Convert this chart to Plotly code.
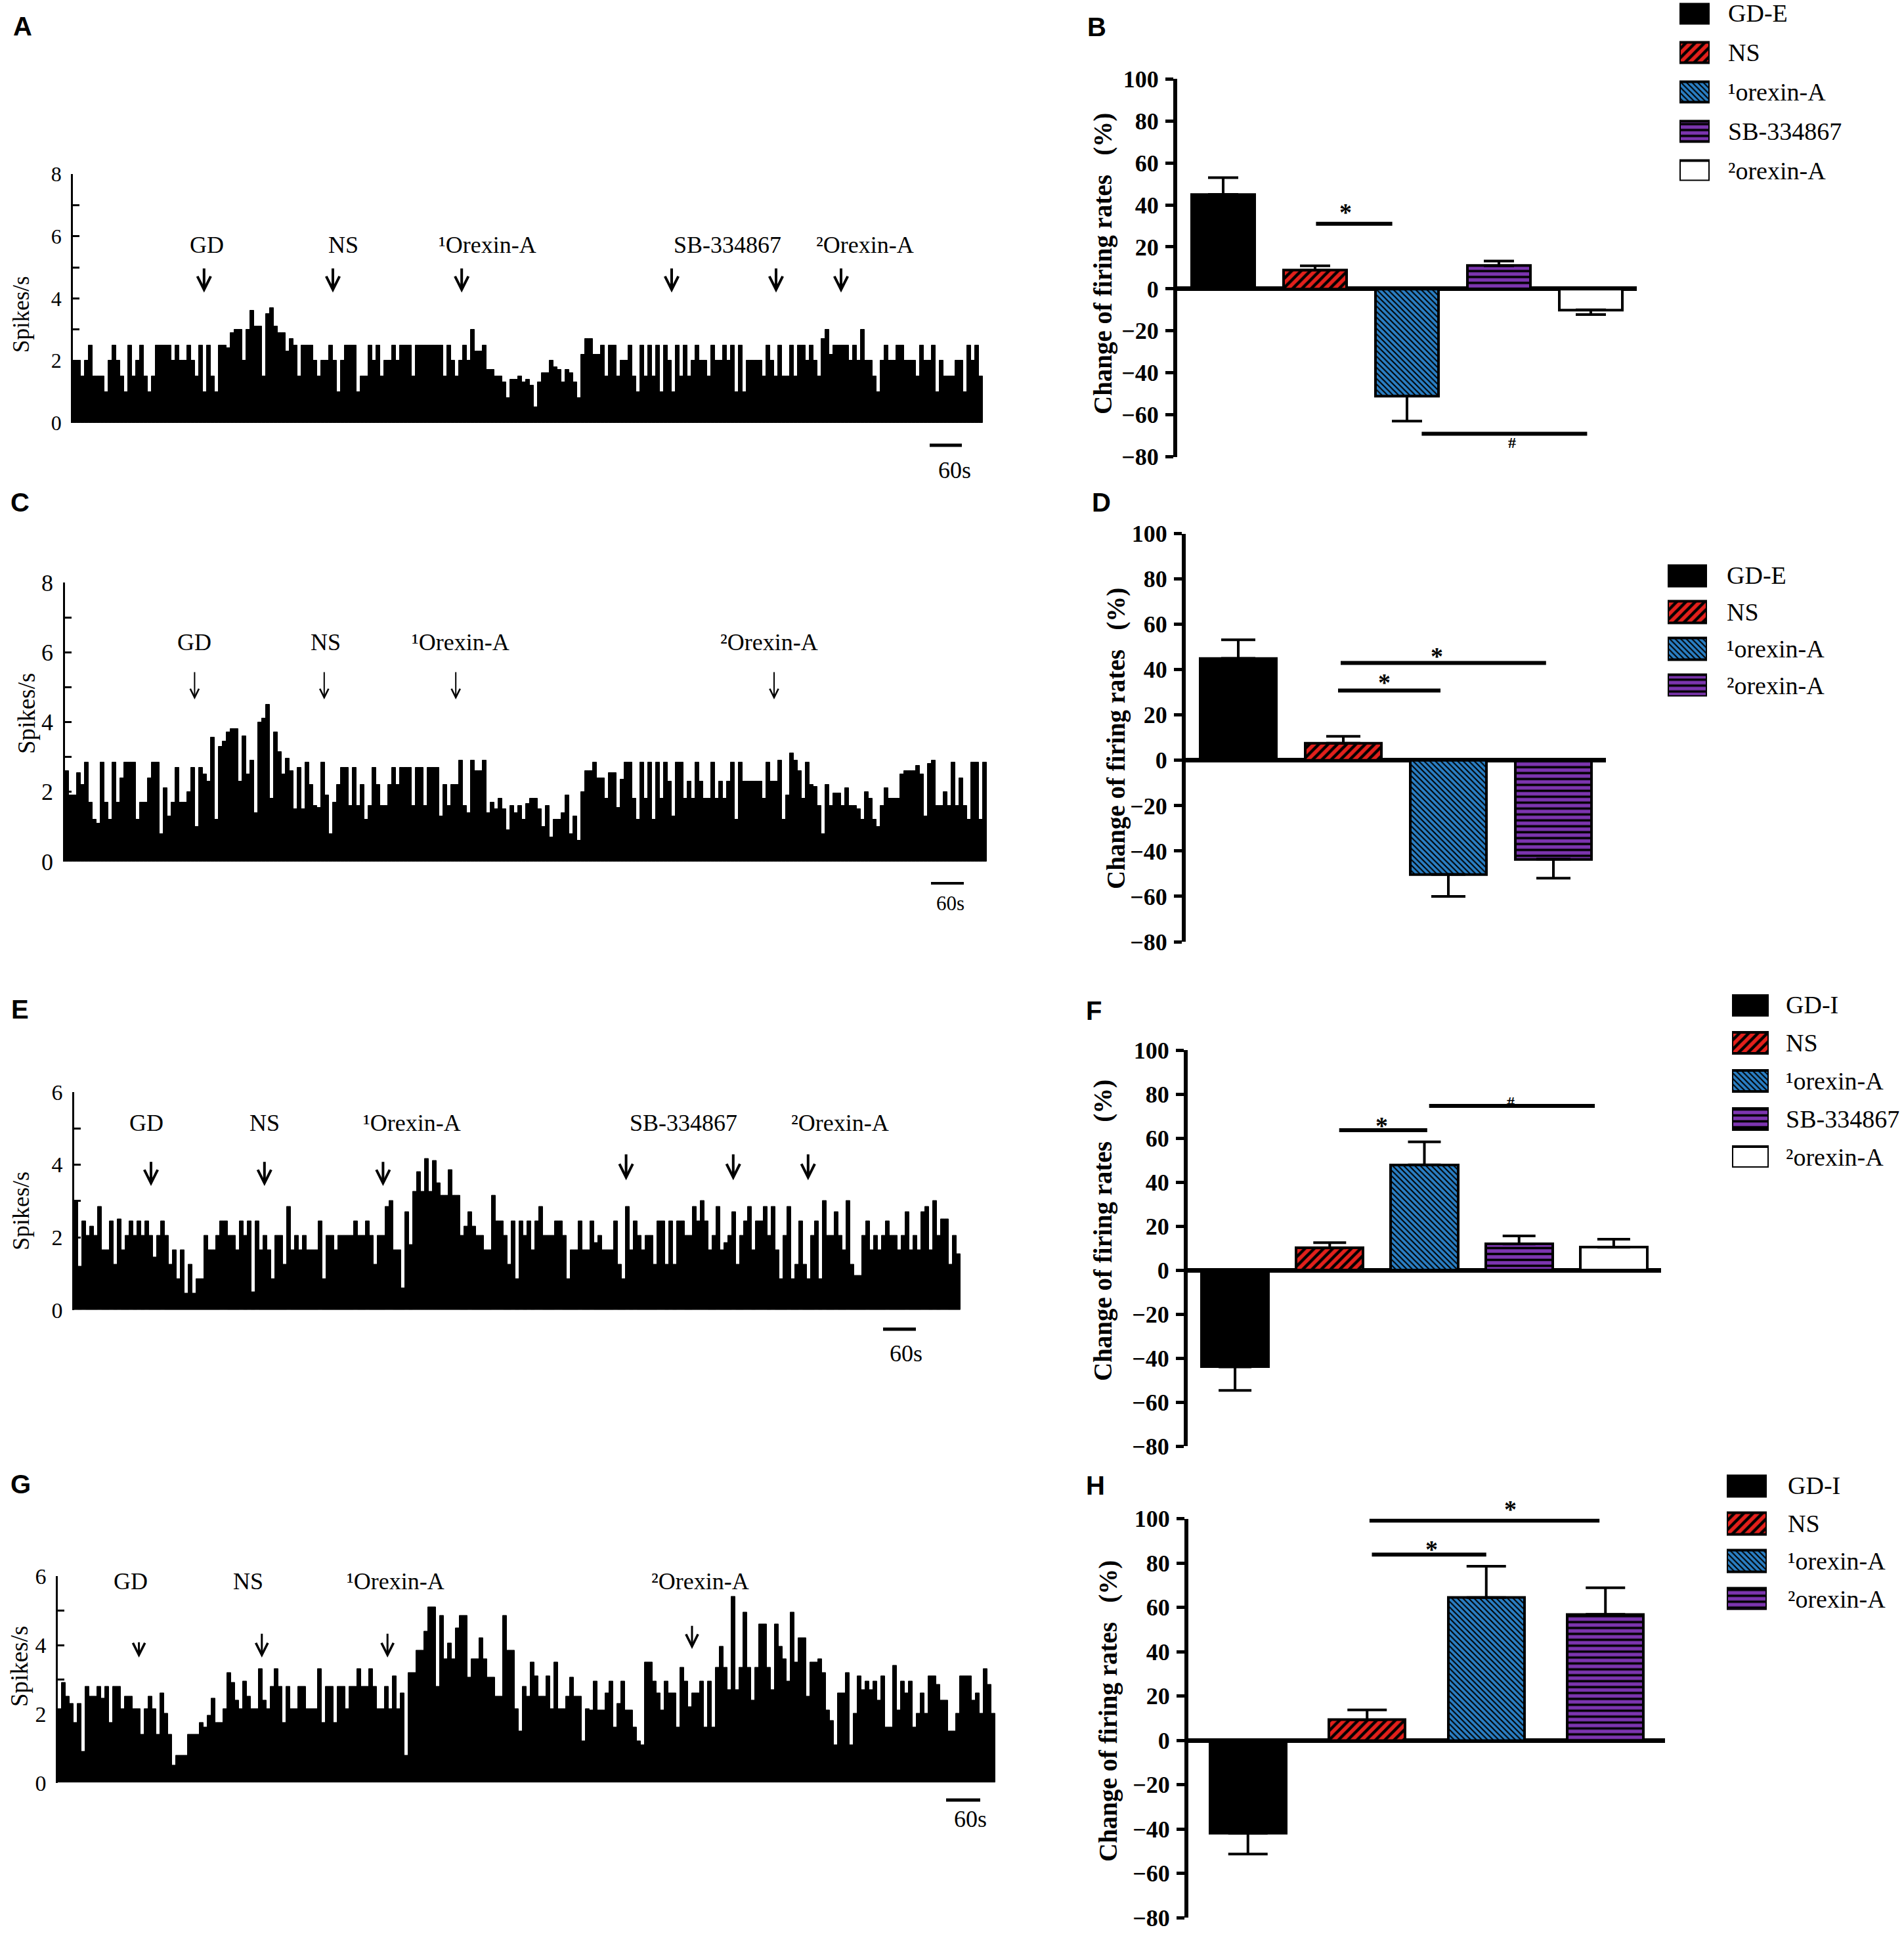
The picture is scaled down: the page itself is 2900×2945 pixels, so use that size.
import plotly.graph_objects as go

W, H = 2900, 2945
SERIF = "Liberation Serif"
SANS = "Liberation Sans"

# ---- firing-rate histograms (spikes/s per bin) ----
A_RATE = [
    2, 2, 1.5, 2, 2.5, 1.5, 1.5, 1.5, 1, 2,
    2.5, 2, 1.5, 1, 2.5, 1.5, 2, 2.5, 1.5, 1,
    1.5, 2.5, 2.5, 2.5, 2.5, 2, 2.5, 2, 2, 2.5,
    2, 1.5, 2.5, 1, 2.5, 1.5, 1, 2.5, 2.5, 2.4,
    2.9, 3, 3, 2, 3, 3.6, 3.1, 3.1, 1.5, 3.5,
    3.7, 3.1, 2.9, 2.9, 2.3, 2.7, 2.5, 1.5, 2.5, 2.5,
    2.5, 2, 1.5, 2, 2, 2.5, 2, 1, 2, 2.5,
    2.5, 2.5, 1, 1.5, 1.5, 2.5, 2, 2.5, 1.5, 2,
    2, 2.5, 2, 2.5, 2.5, 2.5, 1.5, 2.5, 2.5, 2.5,
    2.5, 2.5, 2.5, 2.5, 1.5, 2.5, 2, 1.5, 2, 2.5,
    2, 3, 2.3, 2.3, 2.5, 1.7, 1.7, 1.5, 1.5, 1.3,
    0.8, 1.4, 1.4, 1.5, 1.3, 1.4, 1.2, 0.5, 1.3, 1.6,
    1.6, 2, 1.8, 1.7, 1.3, 1.7, 1.6, 1.3, 0.8, 2.2,
    2.7, 2.7, 2.2, 2.2, 2.5, 1.5, 2.5, 2.5, 1.5, 2,
    2, 2.5, 1.5, 1, 2.5, 1.5, 2.5, 1.5, 2.5, 1,
    2.5, 2, 1, 2.5, 1.5, 2.5, 1.5, 2, 2.5, 2,
    2, 1.5, 2.5, 2, 2, 2.5, 2, 2.5, 1, 2.5,
    1, 2, 2, 2, 2, 1.5, 2.5, 2, 1.5, 2.5,
    1.5, 1.5, 2.5, 1.5, 2.5, 2.5, 2, 2.5, 2, 1.5,
    2.7, 3, 2.2, 2.5, 2.5, 2.5, 2.5, 2, 2.5, 2,
    3, 2, 2, 1.5, 1, 2, 2.5, 2, 2, 2.5,
    2.5, 2, 2, 2, 1.5, 2.5, 2, 2, 2.5, 1,
    2, 1.5, 1.5, 1.5, 2, 2, 1, 2.5, 2, 2.5,
    1.5,
]
C_RATE = [
    2.6, 1.9, 1.9, 2.55, 2.2, 2.85, 1.7, 1.2, 1.1, 2.85,
    1.7, 1.2, 2.85, 1.7, 2.4, 2.85, 2.85, 2.85, 1.2, 1.7,
    1.7, 2.4, 2.85, 2.85, 0.8, 2.1, 1.3, 1.7, 2.7, 1.7,
    1.7, 2.0, 2.7, 1.0, 2.7, 2.5, 2.3, 3.55, 1.2, 3.3,
    3.45, 3.7, 3.8, 3.8, 2.3, 3.6, 2.5, 2.9, 1.4, 4.0,
    4.1, 4.5, 1.8, 3.7, 3.15, 2.5, 2.95, 2.6, 1.5, 2.7,
    1.5, 2.85, 2.2, 1.6, 1.55, 2.85, 1.9, 0.8, 1.7, 2.2,
    2.7, 2.7, 1.6, 2.7, 1.6, 2.2, 1.2, 1.6, 2.7, 2.2,
    1.6, 1.6, 2.2, 2.7, 2.2, 2.7, 2.7, 2.7, 1.6, 2.7,
    2.7, 1.6, 2.7, 2.7, 2.7, 1.3, 2.2, 1.6, 2.2, 2.2,
    2.9, 1.6, 1.4, 2.9, 2.6, 2.6, 2.9, 1.4, 1.7, 1.5,
    1.8, 1.5, 0.9, 1.6, 1.4, 1.6, 1.2, 1.65, 1.8, 1.8,
    1.5, 1.0, 1.6, 0.7, 1.2, 1.2, 1.4, 1.9, 0.8, 1.3,
    0.6, 2.0, 2.6, 2.6, 2.85, 2.4, 2.4, 1.8, 2.55, 2.55,
    1.55, 2.35, 2.85, 2.85, 1.8, 1.2, 2.85, 1.8, 2.85, 1.2,
    2.85, 1.8, 2.85, 2.3, 1.3, 2.85, 2.85, 1.8, 2.3, 1.8,
    2.85, 2.3, 1.8, 1.8, 2.85, 1.8, 2.3, 1.8, 2.3, 2.85,
    1.2, 2.85, 2.3, 2.3, 2.3, 2.3, 2.3, 1.8, 2.85, 2.3,
    2.3, 2.9, 1.2, 1.9, 3.1, 2.9, 2.6, 1.8, 2.85, 2.2,
    2.15, 1.6, 0.8, 2.2, 1.6, 1.95, 1.95, 1.6, 2.1, 1.6,
    1.6, 1.5, 1.2, 2.0, 1.8, 1.2, 1.0, 1.6, 2.1, 1.8,
    1.8, 1.8, 2.5, 2.6, 2.6, 2.6, 2.75, 2.5, 1.3, 2.8,
    2.9, 1.6, 1.6, 2.0, 1.6, 2.85, 1.6, 2.4, 1.6, 1.2,
    2.85, 2.85, 1.2, 2.85,
]
E_RATE = [
    3.0, 1.2, 2.45, 2.05, 2.3, 2.05, 2.85, 1.65, 1.65, 2.45,
    1.25, 2.5, 1.65, 2.05, 2.45, 2.05, 2.45, 2.05, 2.45, 2.05,
    1.45, 2.05, 2.45, 2.05, 1.25, 1.65, 0.85, 1.65, 0.45, 1.25,
    0.45, 0.85, 0.85, 2.05, 1.65, 1.65, 2.05, 2.45, 2.45, 2.05,
    2.05, 1.65, 2.45, 2.05, 2.45, 0.5, 2.45, 1.65, 2.05, 1.65,
    0.85, 2.05, 2.05, 1.25, 2.85, 1.65, 2.05, 1.65, 2.05, 1.65,
    1.65, 1.65, 2.45, 0.85, 2.05, 2.05, 1.65, 2.05, 2.05, 2.05,
    2.05, 2.45, 2.05, 2.05, 2.45, 2.05, 1.25, 2.05, 2.05, 2.85,
    3.0, 1.65, 1.65, 0.6, 2.7, 1.8, 3.25, 3.8, 3.25, 4.15,
    3.25, 4.1, 3.5, 3.15, 3.15, 3.85, 3.15, 3.15, 2.05, 2.3,
    2.7, 2.3, 2.05, 2.05, 1.65, 1.65, 3.15, 2.45, 2.45, 2.05,
    1.25, 2.45, 0.85, 2.45, 2.05, 2.45, 1.65, 2.45, 2.85, 2.05,
    2.05, 2.05, 2.45, 2.45, 2.05, 0.85, 1.65, 1.65, 2.45, 1.65,
    1.65, 2.45, 1.85, 2.05, 1.65, 1.65, 1.65, 2.45, 1.25, 0.85,
    2.85, 1.65, 2.45, 2.05, 1.65, 2.05, 2.05, 1.25, 2.45, 2.45,
    1.25, 2.45, 1.25, 2.45, 2.45, 2.05, 2.05, 2.85, 2.45, 3.0,
    2.45, 1.65, 2.05, 2.85, 1.65, 1.85, 2.05, 2.7, 1.25, 2.05,
    2.45, 2.85, 1.65, 2.45, 2.45, 2.85, 2.05, 2.85, 1.65, 0.85,
    2.05, 2.85, 0.85, 1.25, 2.45, 1.25, 0.85, 2.05, 2.45, 0.85,
    3.0, 2.05, 2.05, 2.7, 2.05, 1.65, 3.0, 1.25, 0.95, 0.95,
    2.05, 2.45, 1.65, 2.05, 1.65, 2.05, 2.45, 2.05, 2.05, 1.65,
    2.05, 2.7, 1.65, 2.05, 1.65, 2.7, 2.85, 1.65, 3.0, 2.05,
    2.5, 2.5, 1.25, 2.05, 1.55,
]
G_RATE = [
    2.15, 2.9, 2.5, 2.3, 1.74, 2.3, 0.9, 2.8, 2.5, 2.5,
    2.8, 2.45, 2.8, 1.74, 2.8, 2.8, 2.15, 2.5, 2.5, 2.15,
    2.15, 1.4, 2.15, 2.5, 2.15, 1.4, 2.6, 2.0, 1.4, 0.5,
    0.78, 0.78, 0.78, 1.4, 1.4, 1.4, 1.74, 1.6, 1.95, 2.45,
    1.74, 1.74, 2.15, 3.2, 2.9, 2.4, 2.15, 2.95, 2.5, 2.15,
    2.15, 3.3, 2.4, 2.15, 2.8, 3.3, 2.8, 1.74, 2.8, 2.15,
    2.15, 2.8, 2.8, 2.15, 2.15, 2.15, 3.3, 1.74, 2.8, 2.8,
    1.74, 2.8, 2.8, 2.15, 2.8, 2.8, 3.3, 2.8, 2.8, 3.3,
    2.8, 2.15, 2.15, 2.8, 2.15, 3.1, 2.15, 2.6, 0.78, 3.2,
    3.2, 3.85, 3.85, 4.4, 5.1, 5.1, 2.8, 4.85, 3.6, 4.05,
    3.6, 4.5, 4.85, 4.85, 3.05, 3.6, 3.6, 4.2, 3.6, 3.05,
    3.05, 2.5, 2.5, 4.85, 3.85, 3.85, 2.15, 1.5, 2.8, 2.5,
    3.5, 3.1, 2.5, 2.5, 3.1, 2.15, 3.5, 2.15, 2.15, 2.5,
    3.05, 2.5, 2.5, 1.2, 2.15, 2.1, 2.95, 2.1, 2.1, 2.6,
    2.95, 1.6, 2.3, 2.95, 2.1, 2.1, 1.6, 1.2, 1.1, 3.5,
    3.5, 2.95, 2.6, 2.1, 2.95, 2.6, 2.6, 1.6, 3.35, 2.95,
    2.2, 2.6, 2.6, 2.95, 1.6, 2.95, 1.6, 3.35, 3.95, 3.35,
    2.7, 5.4, 2.7, 3.35, 4.95, 3.35, 2.4, 3.35, 4.6, 4.6,
    3.35, 2.7, 4.6, 3.95, 3.6, 2.95, 4.95, 3.5, 4.2, 4.2,
    2.5, 3.5, 3.5, 3.6, 3.2, 2.1, 1.8, 1.1, 2.6, 2.6,
    3.2, 1.1, 2.0, 3.1, 2.7, 2.95, 2.7, 2.95, 2.4, 3.1,
    1.6, 1.6, 3.4, 2.1, 2.95, 2.6, 2.95, 1.6, 2.0, 2.6,
    2.0, 3.1, 3.1, 2.85, 2.4, 2.4, 1.5, 1.5, 2.0, 3.1,
    3.1, 3.1, 2.4, 2.6, 2.0, 3.3, 2.85, 2.0,
]

# drug applications: bin index of each arrow, and the labels above them
A_EVENTS = [32.8, 65.5, 98.2, 151.5, 178.0, 194.5]
A_LABELS = ["GD", "NS", "¹Orexin-A", "SB-334867", "²Orexin-A"]
C_EVENTS = [32.4, 65.3, 98.7, 179.5]
C_LABELS = ["GD", "NS", "¹Orexin-A", "²Orexin-A"]
E_EVENTS = [19.0, 47.8, 77.9, 139.6, 166.8, 185.8]
E_LABELS = ["GD", "NS", "¹Orexin-A", "SB-334867", "²Orexin-A"]
G_EVENTS = [20.1, 51.3, 83.2, 160.5]
G_LABELS = ["GD", "NS", "¹Orexin-A", "²Orexin-A"]

# ---- change of firing rate (%), mean and SEM ----
B_GROUPS = ["GD-E", "NS", "¹orexin-A", "SB-334867", "²orexin-A"]
B_MEAN = [45, 9, -51, 11, -10]
B_SEM = [8, 2, 12, 2.3, 2.2]
D_GROUPS = ["GD-E", "NS", "¹orexin-A", "²orexin-A"]
D_MEAN = [45, 7.6, -50.3, -43.6]
D_SEM = [8.2, 3, 9.7, 8.4]
F_GROUPS = ["GD-I", "NS", "¹orexin-A", "SB-334867", "²orexin-A"]
F_MEAN = [-44, 10.1, 47.8, 11.9, 10.4]
F_SEM = [10.7, 2.4, 10.5, 3.6, 3.6]
H_GROUPS = ["GD-I", "NS", "¹orexin-A", "²orexin-A"]
H_MEAN = [-41.9, 9.2, 64.4, 56.8]
H_SEM = [9.4, 4.5, 14.1, 12]

STYLE = {
    "black": dict(color="black", shape="", size=8, solidity=0.3),
    "red": dict(color="#e3201b", shape="/", size=10, solidity=0.45),
    "blue": dict(color="#2a7fc4", shape="\\", size=6, solidity=0.35),
    "purple": dict(color="#7d35b0", shape="-", size=9, solidity=0.4),
    "white": dict(color="white", shape="", size=8, solidity=0.3),
}

fig = go.Figure()
layout = dict(width=W, height=H, margin=dict(l=0, r=0, t=0, b=0, autoexpand=False),
              paper_bgcolor="white", plot_bgcolor="white",
              showlegend=False, bargap=0, barmode="overlay")
annotations = []
shapes = []


def dom_x(left, right):
    return [left / W, right / W]


def dom_y(top, bottom):
    return [1 - bottom / H, 1 - top / H]


def paper_text(x, y, text, size, family=SERIF, weight="normal", angle=0, xanchor="center"):
    annotations.append(dict(x=x / W, y=1 - y / H, xref="paper", yref="paper", text=text,
                            showarrow=False, textangle=angle, xanchor=xanchor, yanchor="middle",
                            font=dict(family=family, size=size, color="black", weight=weight)))


def paper_line(x0, x1, y, width):
    shapes.append(dict(type="line", xref="paper", yref="paper", x0=x0 / W, x1=x1 / W,
                       y0=1 - y / H, y1=1 - y / H, line=dict(color="black", width=width)))


def bar_marker(style):
    st = STYLE[style]
    return dict(color=st["color"], line=dict(color="black", width=4),
                pattern=dict(shape=st["shape"], fgcolor="black", bgcolor=st["color"],
                             size=st["size"], solidity=st["solidity"], fillmode="replace"))


def add_trace_panel(k, rate, events, labels, cfg):
    sfx = "" if k == 1 else str(k)
    n = len(rate)
    fig.add_trace(go.Bar(x=list(range(n)), y=rate, width=1,
                         marker=dict(color="black", line=dict(color="black", width=1)),
                         xaxis="x" + sfx, yaxis="y" + sfx, hoverinfo="skip"))
    ymax = cfg["ymax"]
    layout["xaxis" + sfx] = dict(domain=dom_x(cfg["left"], cfg["left"] + 6 * n),
                                 range=[-0.5, n - 0.5], visible=False, anchor="y" + sfx)
    layout["yaxis" + sfx] = dict(
        domain=dom_y(cfg["top"], cfg["zero"]), range=[0, ymax], anchor="x" + sfx,
        tickvals=list(range(ymax + 1)),
        ticktext=[str(v) if v % 2 == 0 else "" for v in range(ymax + 1)],
        ticks="inside", ticklen=10, tickwidth=2.5, tickcolor="black",
        showline=True, linewidth=2.5, linecolor="black", showgrid=False, zeroline=False,
        tickfont=dict(family=SERIF, size=cfg["tick"], color="black"), ticklabelstandoff=8,
        ticklabeloverflow="allow")
    for lab, lx in zip(labels, cfg["label_x"]):
        annotations.append(dict(x=lx, y=cfg["label_y"], xref="x" + sfx, yref="y" + sfx,
                                text=lab, showarrow=False,
                                font=dict(family=SERIF, size=36, color="black")))
    for ev, top, tip in zip(events, cfg["arrow_top"], cfg["arrow_tip"]):
        annotations.append(dict(x=ev, y=tip, ax=ev, ay=top, xref="x" + sfx, yref="y" + sfx,
                                axref="x" + sfx, ayref="y" + sfx, text="", showarrow=True,
                                arrowhead=5, arrowwidth=cfg["arrow_w"], arrowsize=cfg["arrow_s"],
                                arrowcolor="black", standoff=0))
    tx, ty, ts = cfg["title"]
    paper_text(tx, ty, "Spikes/s", ts, angle=-90)
    x0, x1, yb, lw = cfg["scale"]
    paper_line(x0, x1, yb, lw)
    sx, sy, ss = cfg["scale_text"]
    paper_text(sx, sy, "60s", ss)
    lt, lx, ly = cfg["letter"]
    paper_text(lx, ly, lt, 40, family=SANS, weight="bold")


def add_bar_panel(k, leg_k, groups, mean, sem, styles, cfg):
    sfx = str(k)
    n = len(groups)
    # one trace per group so each bar keeps its own fill pattern
    for i, (m, e, st) in enumerate(zip(mean, sem, styles)):
        fig.add_trace(go.Bar(
            x=[i], y=[m], width=[cfg["bar_w"]], marker=bar_marker(st),
            error_y=dict(type="data", symmetric=False,
                         array=[e if m > 0 else 0], arrayminus=[e if m < 0 else 0],
                         color="black", thickness=4, width=cfg["cap"]),
            xaxis="x" + sfx, yaxis="y" + sfx, hoverinfo="skip"))
    layout["xaxis" + sfx] = dict(domain=dom_x(cfg["left"], cfg["right"]), range=[-0.5, n - 0.5],
                                 visible=False, anchor="y" + sfx)
    layout["yaxis" + sfx] = dict(
        domain=dom_y(cfg["y100"], cfg["y_80"]), range=[-80, 100], anchor="x" + sfx,
        tickvals=list(range(-80, 101, 20)), ticks="outside", ticklen=12, tickwidth=5,
        tickcolor="black", showline=True, linewidth=6, linecolor="black", showgrid=False,
        zeroline=True, zerolinecolor="black", zerolinewidth=7,
        tickfont=dict(family=SERIF, size=36, color="black", weight="bold"), ticklabelstandoff=3,
        ticklabeloverflow="allow")
    for a, b, y, mark, mx, my in cfg["sig"]:
        shapes.append(dict(type="line", xref="x" + sfx, yref="y" + sfx, x0=a, x1=b, y0=y, y1=y,
                           line=dict(color="black", width=6)))
        # mark placed on the axis' domain so it also shows above the +100 limit
        annotations.append(dict(x=mx, y=(my + 80) / 180, xref="x" + sfx, yref="y" + sfx + " domain",
                                text=mark, showarrow=False,
                                font=dict(family=SERIF, size=38 if mark == "*" else 24,
                                          color="black", weight="bold")))
    tx, ty = cfg["title"]
    paper_text(tx, ty, "Change of firing rates\u00a0\u00a0\u00a0(%)", 39, weight="bold", angle=-90)
    lt, lx, ly = cfg["letter"]
    paper_text(lx, ly, lt, 40, family=SANS, weight="bold")

    # legend: one small patterned bar per group
    lsfx = str(leg_k)
    sq_l, sq_r, c0, step, h, text_x = cfg["legend"]
    for i, st in enumerate(styles):
        fig.add_trace(go.Bar(orientation="h", x=[1], y=[i], width=[h / step],
                             marker=bar_marker(st), cliponaxis=False,
                             xaxis="x" + lsfx, yaxis="y" + lsfx, hoverinfo="skip"))
    layout["xaxis" + lsfx] = dict(domain=dom_x(sq_l, sq_r), range=[0, 1], visible=False,
                                  anchor="y" + lsfx)
    layout["yaxis" + lsfx] = dict(domain=dom_y(c0 - h / 2, c0 + (n - 1) * step + h / 2),
                                  range=[(n - 1) + h / (2 * step), -h / (2 * step)],
                                  visible=False, anchor="x" + lsfx)
    for i, g in enumerate(groups):
        paper_text(text_x, c0 + i * step, g, 38, xanchor="left")


add_trace_panel(1, A_RATE, A_EVENTS, A_LABELS, dict(
    left=111, zero=644, top=265, ymax=8, tick=32,
    label_x=[33.5, 68.2, 104.8, 165.7, 200.5], label_y=5.73,
    arrow_top=[5.0] * 6, arrow_tip=[4.19] * 6, arrow_w=4, arrow_s=1.0,
    title=(32, 478, 35), scale=(1416, 1465, 678, 5), scale_text=(1454, 716, 36),
    letter=("A", 34, 40)))
add_trace_panel(3, C_RATE, C_EVENTS, C_LABELS, dict(
    left=99, zero=1312, top=887, ymax=8, tick=36,
    label_x=[32.4, 65.7, 99.9, 178.3], label_y=6.28,
    arrow_top=[5.46] * 4, arrow_tip=[4.65] * 4, arrow_w=2, arrow_s=1.3,
    title=(40, 1087, 37), scale=(1418, 1468, 1345, 4), scale_text=(1447, 1375, 31),
    letter=("C", 30, 765)))
add_trace_panel(5, E_RATE, E_EVENTS, E_LABELS, dict(
    left=113, zero=1995, top=1662.6, ymax=6, tick=34,
    label_x=[17.8, 47.8, 85.3, 154.1, 193.9], label_y=5.14,
    arrow_top=[4.1, 4.1, 4.1, 4.31, 4.31, 4.31], arrow_tip=[3.41, 3.41, 3.41, 3.57, 3.57, 3.57],
    arrow_w=4, arrow_s=1.0,
    title=(32, 1844, 36), scale=(1345, 1395, 2024, 5), scale_text=(1380, 2061, 36),
    letter=("E", 30, 1537)))
add_trace_panel(7, G_RATE, G_EVENTS, G_LABELS, dict(
    left=88, zero=2714.6, top=2400.4, ymax=6, tick=34,
    label_x=[18.0, 47.8, 85.3, 162.5], label_y=5.85,
    arrow_top=[4.11, 4.36, 4.36, 4.59], arrow_tip=[3.64, 3.64, 3.64, 3.89],
    arrow_w=3, arrow_s=1.2,
    title=(29, 2538, 37), scale=(1441, 1493, 2741, 5), scale_text=(1478, 2770, 36),
    letter=("G", 32, 2260)))

add_bar_panel(2, 9, B_GROUPS, B_MEAN, B_SEM, ["black", "red", "blue", "purple", "white"], dict(
    left=1793, right=2493, y100=120.3, y_80=695.6, bar_w=0.69, cap=23,
    sig=[(1.01, 1.84, 31, "*", 1.33, 36.5), (2.16, 3.96, -69, "#", 3.14, -77.8)],
    title=(1680, 402), letter=("B", 1670, 41),
    legend=(2558, 2604, 20, 60, 31, 2630)))
add_bar_panel(4, 10, D_GROUPS, D_MEAN, D_SEM, ["black", "red", "blue", "purple"], dict(
    left=1806, right=2446, y100=812.7, y_80=1434, bar_w=0.72, cap=26,
    sig=[(0.975, 2.93, 43, "*", 1.89, 52.8), (0.95, 1.925, 30.8, "*", 1.39, 34.4)],
    title=(1700, 1124), letter=("D", 1677, 765),
    legend=(2540, 2600, 876, 56, 33, 2628)))
add_bar_panel(6, 11, F_GROUPS, F_MEAN, F_SEM, ["black", "red", "blue", "purple", "white"], dict(
    left=1809, right=2530, y100=1599, y_80=2202, bar_w=0.71, cap=25,
    sig=[(1.10, 2.03, 63.6, "*", 1.55, 72.5), (2.05, 3.80, 74.6, "#", 2.91, 81)],
    title=(1680, 1874), letter=("F", 1666, 1539),
    legend=(2638, 2694, 1530, 58, 32, 2718)))
add_bar_panel(8, 12, H_GROUPS, H_MEAN, H_SEM, ["black", "red", "blue", "purple"], dict(
    left=1810, right=2536, y100=2312.5, y_80=2920, bar_w=0.64, cap=30,
    sig=[(1.02, 2.95, 99.1, "*", 2.2, 111), (1.04, 2.0, 83.8, "*", 1.54, 93)],
    title=(1688, 2606), letter=("H", 1668, 2262),
    legend=(2630, 2691, 2262, 57.7, 33, 2721)))

layout["annotations"] = annotations
layout["shapes"] = shapes
fig.update_layout(**layout)

# pin the plot to the page corner so the page is exactly the figure size
PIN = ("document.body.style.margin='0';"
       "var gd=document.getElementById('{plot_id}');"
       "gd.style.position='absolute';gd.style.left='0px';gd.style.top='0px';")
fig.write_html("out.html", post_script=PIN, config={"displayModeBar": False})
